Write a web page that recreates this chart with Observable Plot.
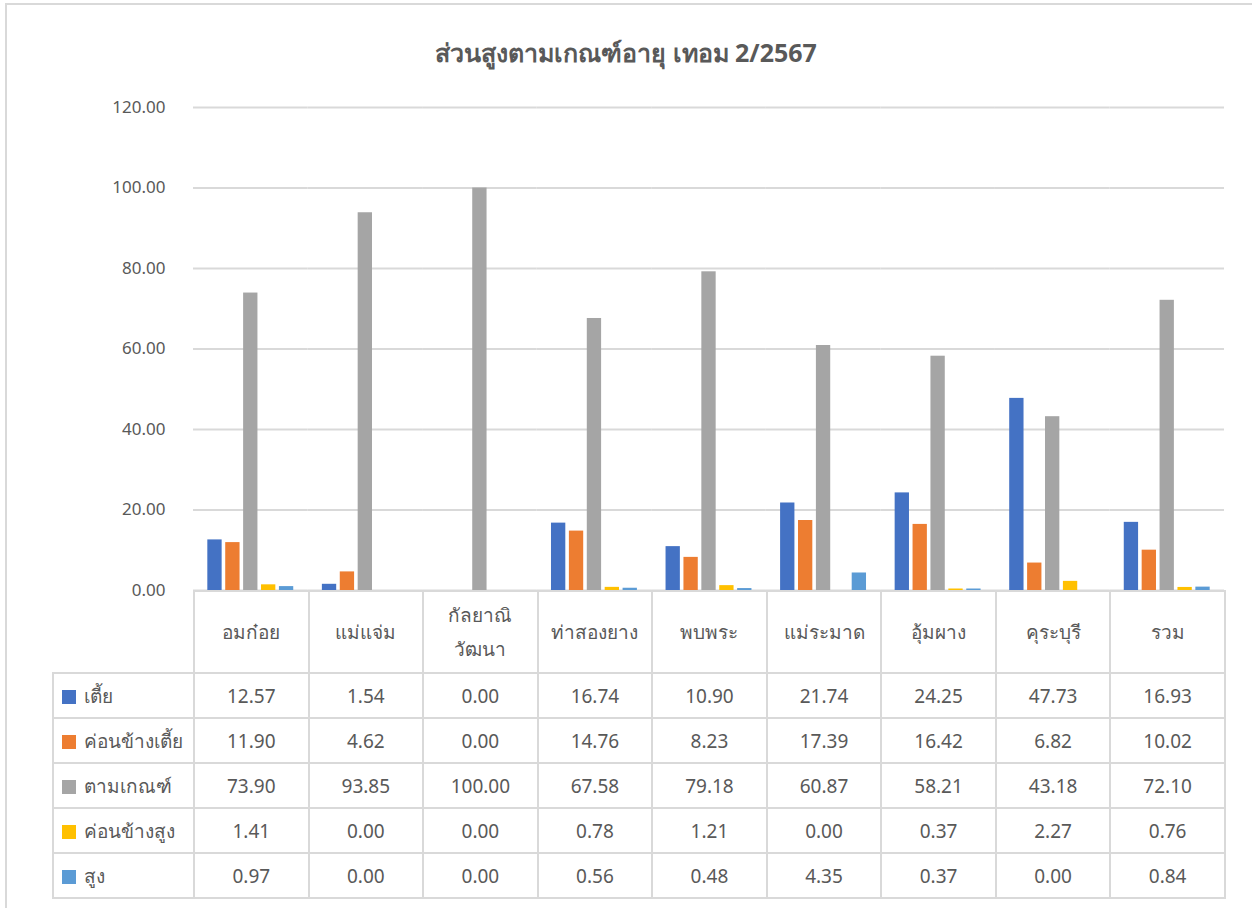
<!DOCTYPE html>
<html>
<head>
<meta charset="utf-8">
<script src="https://cdn.jsdelivr.net/npm/d3@7"></script>
<script src="https://cdn.jsdelivr.net/npm/@observablehq/plot@0.6"></script>
<style>
  html, body { margin: 0; padding: 0; background: #fff; }
  body { font-family: "Noto Sans", Tahoma, "DejaVu Sans", sans-serif; color: #595959; }
  #wrap { position: relative; width: 1252px; height: 908px; overflow: hidden; }
  #frame { position: absolute; left: 5px; top: 3px; width: 1260px; height: 920px; border: 2px solid #d9d9d9; box-sizing: border-box; }
  #title { position: absolute; left: 0; top: 30px; width: 1252px; height: 44px; text-align: center; font-size: 25px; font-weight: bold; color: #595959; line-height: 44px; }
  #plot { position: absolute; left: 0; top: 80px; }
  #table { position: absolute; left: 52px; top: 590px; border-collapse: collapse; table-layout: fixed; font-size: 19px; color: #595959; }
  #table td { border: 2px solid #d9d9d9; text-align: center; padding: 0; }
  #table td.lab { text-align: left; white-space: nowrap; padding-left: 8px; }
  #table td.corner { border-top: none; border-left: none; }
  #table tr.head td { height: 80px; white-space: pre-line; line-height: 34px; }
  #table tr.row td { height: 43px; }
  .sw { display: inline-block; width: 14px; height: 14px; margin-right: 8px; vertical-align: -1px; }
</style>
</head>
<body>
<div id="wrap">
  <div id="frame"></div>
  <div id="title">ส่วนสูงตามเกณฑ์อายุ เทอม 2/2567</div>
  <div id="plot"></div>
  <table id="table"></table>
</div>
<script>
const categories = ["อมก๋อย", "แม่แจ่ม", "กัลยาณิวัฒนา", "ท่าสองยาง", "พบพระ", "แม่ระมาด", "อุ้มผาง", "คุระบุรี", "รวม"];
const categoryLabels = ["อมก๋อย", "แม่แจ่ม", "กัลยาณิ\nวัฒนา", "ท่าสองยาง", "พบพระ", "แม่ระมาด", "อุ้มผาง", "คุระบุรี", "รวม"];
const series = ["เตี้ย", "ค่อนข้างเตี้ย", "ตามเกณฑ์", "ค่อนข้างสูง", "สูง"];
const colors = ["#4472C4", "#ED7D31", "#A5A5A5", "#FFC000", "#5B9BD5"];
const short = [12.57, 1.54, 0.00, 16.74, 10.90, 21.74, 24.25, 47.73, 16.93];
const ratherShort = [11.90, 4.62, 0.00, 14.76, 8.23, 17.39, 16.42, 6.82, 10.02];
const normal = [73.90, 93.85, 100.00, 67.58, 79.18, 60.87, 58.21, 43.18, 72.10];
const ratherTall = [1.41, 0.00, 0.00, 0.78, 1.21, 0.00, 0.37, 2.27, 0.76];
const tall = [0.97, 0.00, 0.00, 0.56, 0.48, 4.35, 0.37, 0.00, 0.84];
const yTicks = [0, 20, 40, 60, 80, 100, 120];

const seriesValues = [short, ratherShort, normal, ratherTall, tall];
const data = [];
series.forEach((s, si) => categories.forEach((c, ci) => data.push({category: c, series: s, value: seriesValues[si][ci]})));

const chart = Plot.plot({
  width: 1252,
  height: 522,
  marginTop: 27,
  marginBottom: 12,
  marginLeft: 193,
  marginRight: 28,
  style: {fontFamily: '"Noto Sans", Tahoma, "DejaVu Sans", sans-serif', fontSize: "17px", color: "#595959", background: "transparent"},
  fx: {domain: categories, padding: 0, axis: null, round: false},
  x: {domain: series, paddingInner: 0.2, paddingOuter: 0.8, axis: null, round: false},
  y: {domain: [0, 120], label: null},
  color: {domain: series, range: colors},
  marks: [
    Plot.gridY(yTicks, {stroke: "#d9d9d9", strokeOpacity: 1, strokeWidth: 2}),
    Plot.axisY(yTicks, {tickSize: 0, tickPadding: 28, tickFormat: d => d.toFixed(2), fill: "#595959", fontSize: 17, label: null}),
    Plot.barY(data, {fx: "category", x: "series", y: "value", fill: "series"})
  ]
});
document.getElementById("plot").appendChild(chart);

// data table
const table = document.getElementById("table");
const colgroup = document.createElement("colgroup");
const c0 = document.createElement("col"); c0.style.width = "141px"; colgroup.appendChild(c0);
categories.forEach(() => { const c = document.createElement("col"); c.style.width = (1031 / 9) + "px"; colgroup.appendChild(c); });
table.appendChild(colgroup);
const head = document.createElement("tr"); head.className = "head";
const corner = document.createElement("td"); corner.className = "corner"; head.appendChild(corner);
categoryLabels.forEach(l => { const td = document.createElement("td"); td.textContent = l; head.appendChild(td); });
table.appendChild(head);
series.forEach((s, si) => {
  const tr = document.createElement("tr"); tr.className = "row";
  const lab = document.createElement("td"); lab.className = "lab";
  const sw = document.createElement("span"); sw.className = "sw"; sw.style.background = colors[si];
  lab.appendChild(sw); lab.appendChild(document.createTextNode(s));
  tr.appendChild(lab);
  seriesValues[si].forEach(v => { const td = document.createElement("td"); td.textContent = v.toFixed(2); tr.appendChild(td); });
  table.appendChild(tr);
});
</script>
</body>
</html>
